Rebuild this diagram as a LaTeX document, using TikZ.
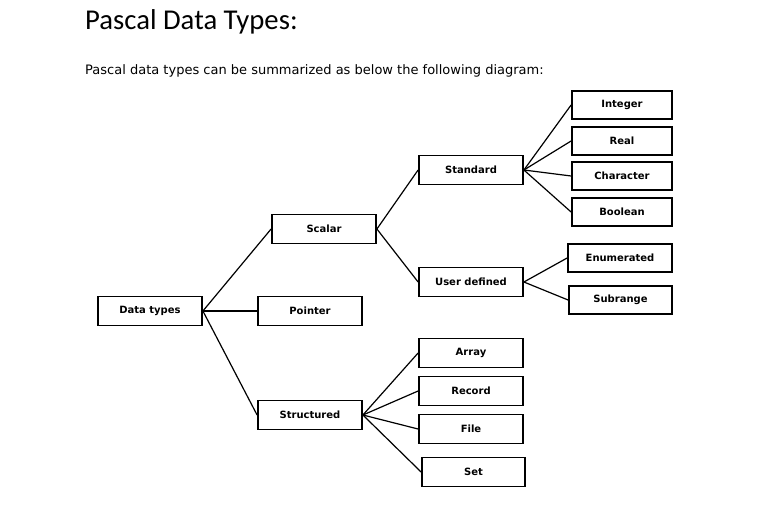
\documentclass[tikz,border=0pt]{standalone}
\usepackage{fontspec}
\setmainfont{Carlito}
\newfontfamily\subfont{DejaVu Sans}
\usepackage{tikz}
\usetikzlibrary{positioning}

\begin{document}
\begin{tikzpicture}[
    x=1pt, y=-1pt,
    box/.style={draw, line width=1.8pt, minimum width=104pt, minimum height=29pt,
                inner sep=0pt, font=\subfont\bfseries\fontsize{10}{12}\selectfont},
    leaf box/.style={box, minimum width=100pt, minimum height=28pt},
    link/.style={line width=1.2pt}
  ]
    \useasboundingbox (0,0) rectangle (776,525);

    % Heading and intro line
    \node[anchor=base west, inner sep=0pt, font=\fontsize{28.7}{32}\selectfont] (title)
      at (85,29) {Pascal Data Types:};
    \node[anchor=base west, inner sep=0pt, font=\subfont\fontsize{13}{15}\selectfont] (intro)
      at (85,74) {Pascal data types can be summarized as below the following diagram:};

    % Root and first level
    \node[box] (dt) at (150,311) {Data types};
    \node[box] (scalar) at (324,229) {Scalar};
    \node[box] (pointer) at (310,311) {Pointer};
    \node[box] (struct) at (310,415) {Structured};

    % Scalar types
    \node[box] (std) at (471,170) {Standard};
    \node[box] (user) at (471,282) {User defined};

    % Standard types
    \node[leaf box] (int) at (622,105) {Integer};
    \node[leaf box] (real) at (622,141) {Real};
    \node[leaf box] (char) at (622,176) {Character};
    \node[leaf box] (bool) at (622,212) {Boolean};

    % User defined types
    \node[leaf box, minimum width=104pt] (enum) at (620,258) {Enumerated};
    \node[leaf box, minimum width=103pt] (subr) at (620.5,300) {Subrange};

    % Structured types
    \node[box] (array) at (471,353) {Array};
    \node[box] (record) at (471,391) {Record};
    \node[box] (file) at (471,429) {File};
    \node[box, minimum width=103pt] (set) at (473.5,472) {Set};

    % Connections
    \foreach \c in {scalar,pointer,struct}
      \draw[link] (dt.east) -- (\c.west);
    \foreach \c in {std,user}
      \draw[link] (scalar.east) -- (\c.west);
    \foreach \c in {int,real,char,bool}
      \draw[link] (std.east) -- (\c.west);
    \foreach \c in {enum,subr}
      \draw[link] (user.east) -- (\c.west);
    \foreach \c in {array,record,file,set}
      \draw[link] (struct.east) -- (\c.west);
  \end{tikzpicture}
\end{document}
